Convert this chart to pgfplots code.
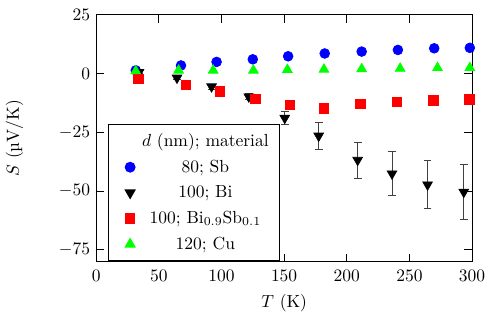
\documentclass[border=0pt]{standalone}
\usepackage{pgfplots}
\pgfplotsset{compat=1.18}
\begin{document}
\begin{tikzpicture}
\begin{axis}[
  scale only axis,
  width=215pt, height=141pt,
  xmin=0, xmax=300, ymin=-80, ymax=25,
  xtick={0,50,...,300},
  ytick={-75,-50,-25,0,25},
  tick align=inside,
  major tick length=4.5pt,
  axis line style={semithick},
  every tick/.style={semithick,black},
  xticklabel style={yshift=-1.5pt},
  xlabel={$T$ (K)},
  xlabel style={yshift=-0.5pt},
  ylabel={$S$ (\textmu V/K)},
  ylabel style={yshift=13.5pt},
  legend style={at={(axis cs:9.2,-21.4)}, anchor=north west, draw=black, semithick, cells={anchor=center}, row sep=2.2pt, inner xsep=4pt, inner ysep=3pt, column sep=2pt},
  legend cell align=center,
]
\addlegendimage{empty legend}
\addlegendentry{$d$ (nm); material}
\addplot[only marks, mark=*, mark size=2.8pt, color={rgb,255:red,0;green,0;blue,255}, error bars/.cd, y dir=both, y explicit, error bar style={black, thin}, error mark options={rotate=90, mark size=2pt, black}]
coordinates {
(31.6,1.4) (67.7,3.5) (96.1,5.0) (125,6.1) (153.2,7.4) (182.4,8.6) (211.9,9.4) (240.8,10.1) (269.8,10.8) +- (0,1.2) (298.2,11.0) +- (0,1.2)
};
\addlegendentry{80; Sb}
\addplot[only marks, mark=triangle*, mark options={rotate=180}, mark size=3.2pt, color=black, error bars/.cd, y dir=both, y explicit, error bar style={black!75, thin}, error mark options={rotate=90, mark size=2.2pt, black!75}]
coordinates {
(34.2,0.6) +- (0,0.5) (64.5,-1.8) +- (0,0.8) (92.1,-5.5) +- (0,1) (121.8,-9.8) +- (0,1.2)
(150.5,-18.9) +- (0,2.7) (177.6,-26.5) +- (0,5.7) (208.7,-36.8) +- (0,7.6)
(236.1,-42.6) +- (0,9.4) (264.5,-47.3) +- (0,10.2) (293.4,-50.4) +- (0,11.7)
};
\addlegendentry{100; Bi}
\addplot[only marks, mark=square*, mark size=2.7pt, color={rgb,255:red,255;green,0;blue,0}]
coordinates {
(33.7,-2.1) (71.6,-4.8) (98.7,-7.6) (126.9,-10.7) (154.7,-13.2) (181.8,-14.8) (211,-12.9) (240,-12.1) (269,-11.4) (297.9,-11.0)
};
\addlegendentry{100; Bi$_{0.9}$Sb$_{0.1}$}
\addplot[only marks, mark=triangle*, mark size=3.2pt, color={rgb,255:red,0;green,255;blue,0}]
coordinates {
(31.6,1.1) (65.8,1.4) (93.4,1.4) (125.5,1.4) (152.6,1.7) (181.8,1.8) (211.9,2.0) (242.6,2.2) (272.4,2.5) (298.2,2.5)
};
\addlegendentry{120; Cu}
\end{axis}
\path (current bounding box.north) ++(0,2pt);
\end{tikzpicture}
\end{document}
